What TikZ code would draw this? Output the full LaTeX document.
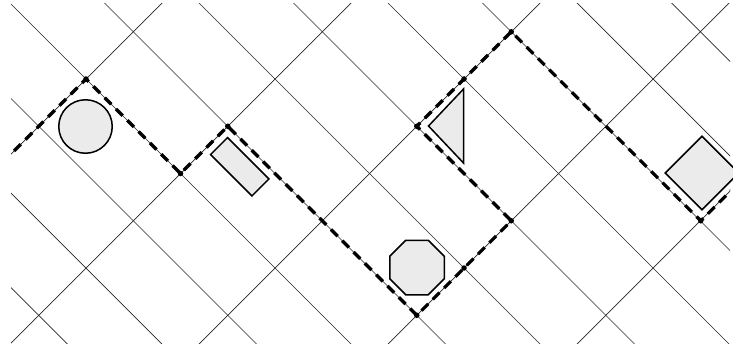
\documentclass[tikz,border=0pt]{standalone}
\usetikzlibrary{shapes.geometric}
\definecolor{shapefill}{HTML}{EBEBEB}
\begin{document}
\begin{tikzpicture}[x=1pt,y=-1pt,
  gridline/.style={line width=0.7pt, black!85},
  boundary/.style={line width=3.2pt, dash pattern=on 9.5pt off 6.5pt},
  vdot/.style={circle, fill=black, inner sep=0pt, minimum size=5.5pt},
  piece/.style={draw=black, line width=1.5pt, fill=shapefill, inner sep=0pt}]
\useasboundingbox (0,0) rectangle (733,346);
% path vertices
\coordinate (L)  at (-8.5,173.5);
\coordinate (P0) at (86,79);
\coordinate (P1) at (180.5,173.5);
\coordinate (P2) at (227.75,126.25);
\coordinate (P3) at (416.75,315.25);
\coordinate (P4) at (464,268);
\coordinate (P5) at (511.25,220.75);
\coordinate (P6) at (416.75,126.25);
\coordinate (P7) at (464,79);
\coordinate (P8) at (511.25,31.75);
\coordinate (P9) at (700.75,220.75);
\coordinate (R)  at (795.25,126.25);
\begin{scope}
  \clip (11,3) rectangle (730,343);
  \foreach \k in {-3,...,7} {
    \pgfmathsetmacro\cc{7+94.5*\k}
    \draw[gridline] ({\cc-60},-60) -- ({\cc+420},420);
  }
  \foreach \m in {0,...,4} {
    \pgfmathsetmacro\dd{165+189*\m}
    \draw[gridline] ({\dd+60},-60) -- ({\dd-420},420);
  }
  \draw[boundary] (L) -- (P0) -- (P1) -- (P2) -- (P3) -- (P5) -- (P6) -- (P8) -- (P9) -- (R);
\end{scope}
\foreach \i in {0,...,9} { \node[vdot] (d\i) at (P\i) {}; }
% pieces
\node[piece, circle, minimum size=53.5pt] (circ) at (85.5,126.5) {};
\node[piece, rectangle, rotate=-45, minimum width=58.5pt, minimum height=24pt] (rect) at (239.75,166.75) {};
\node[piece, regular polygon, regular polygon sides=8, minimum size=59pt] (oct) at (417,267.5) {};
\node[piece, rectangle, rotate=45, minimum width=52pt, minimum height=52pt] (diam) at (702,173) {};
\draw[piece] (428.5,126) -- (463.5,89) -- (463.5,163) -- cycle;
\end{tikzpicture}
\end{document}
